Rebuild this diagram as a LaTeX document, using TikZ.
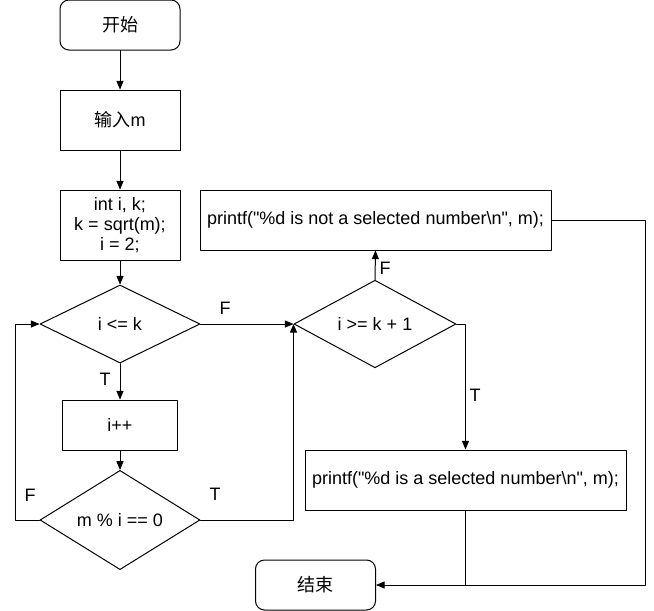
\documentclass[tikz,border=0pt]{standalone}
\usepackage{fontspec}
\setmainfont{Liberation Sans}
\newfontfamily\cjk{Noto Sans CJK SC}
\usetikzlibrary{arrows,shapes.geometric}

\tikzset{
	term/.style={draw,line width=1pt,rounded corners=9pt,minimum width=120pt,minimum height=50pt},
	proc/.style={draw,line width=1pt,minimum width=120pt,minimum height=60pt,align=center},
	cond/.style={draw,line width=1pt,diamond,inner sep=0pt,minimum width=160pt,minimum height=78pt},
	flow/.style={->,line width=1pt}
}

\begin{document}
\begin{tikzpicture}[line cap=round,line join=round,>=triangle 45,x=1pt,y=-1pt,font=\fontsize{18}{20}\selectfont]
		\useasboundingbox (0,0) rectangle (654,611);
		% left column
		\node[term] (start) at (120,25) {\cjk 开始};
		\node[proc] (input) at (120,120) {{\cjk 输入}m};
		\node[proc,minimum height=70pt] (init) at (120,225) {int i, k;\\k = sqrt(m);\\i = 2;};
		\node[cond] (loop) at (120,324) {i <= k};
		\node[proc,minimum width=115pt,minimum height=50pt] (inc) at (120,425) {i++};
		\node[cond] (divis) at (120,520) {m \% i == 0};
		% right column
		\node[cond,minimum width=162pt] (check) at (375,324) {i >= k + 1};
		\node[proc,minimum width=351pt] (notsel) at (375.5,220) {printf(\textquotedbl\%d is not a selected number\textbackslash n\textquotedbl, m);};
		\node[proc,minimum width=321pt] (sel) at (465.5,480) {printf(\textquotedbl\%d is a selected number\textbackslash n\textquotedbl, m);};
		\node[term] (finish) at (315.5,585) {\cjk 结束};
		\coordinate (lcorner) at (15,520);
		\coordinate (rcorner) at (645,220);
		% connectors
		\draw[flow] (start) -- (input);
		\draw[flow] (input) -- (init);
		\draw[flow] (init) -- (loop);
		\draw[flow] (loop) -- (inc);
		\draw[flow] (inc) -- (divis);
		\draw[flow] (divis.west) -- (lcorner) |- (loop.west);
		\draw[flow] (loop.east) -- (check.west);
		\draw[flow] (divis.east) -| (check.west);
		\draw[flow] (check.north) -- (notsel.south);
		\draw[flow] (check.east) -| (sel.north);
		\draw[flow] (notsel.east) -- (rcorner) |- (finish.east);
		\draw[line width=1pt] (sel.south) -- (sel.south |- finish.east);
		% labels
		\node (tloop) at (105,379) {T};
		\node (floop) at (225,308) {F};
		\node (fdiv) at (30,495) {F};
		\node (tdiv) at (215,494) {T};
		\node (fcheck) at (385,268) {F};
		\node (tcheck) at (475,395) {T};
	\end{tikzpicture}
\end{document}
